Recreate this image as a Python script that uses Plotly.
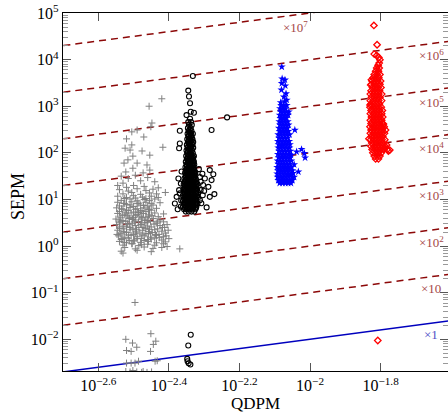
import math
import plotly.graph_objects as go

# ---------------- axis settings (log10 units) ----------------
x_range_log = [-2.7, -1.609]
y_range_log = [-2.68, 5.0]

x_tick_exps = [-2.6, -2.4, -2.2, -2.0, -1.8]
x_tick_labels = ["10<sup>−2.6</sup>", "10<sup>−2.4</sup>", "10<sup>−2.2</sup>",
                 "10<sup>−2</sup>", "10<sup>−1.8</sup>"]
y_tick_exps = [-2, -1, 0, 1, 2, 3, 4, 5]
y_tick_labels = ["10<sup>−2</sup>", "10<sup>−1</sup>", "10<sup>0</sup>", "10<sup>1</sup>",
                 "10<sup>2</sup>", "10<sup>3</sup>", "10<sup>4</sup>", "10<sup>5</sup>"]

# reference lines SEPM = multiplier * QDPM
multipliers = [1, 10, 1e2, 1e3, 1e4, 1e5, 1e6, 1e7]
multiplier_labels = ["×1", "×10", "×10<sup>2</sup>", "×10<sup>3</sup>", "×10<sup>4</sup>",
                     "×10<sup>5</sup>", "×10<sup>6</sup>", "×10<sup>7</sup>"]

# ---------------- data (log10 QDPM, log10 SEPM) ----------------
gray_points_log = [
    (-2.420, 3.16), (-2.456, 3.00), (-2.448, 2.64), (-2.451, 2.56), (-2.471, 2.34),
    (-2.505, 2.45), (-2.490, 2.49), (-2.520, 2.30),
    (-2.505, 2.17), (-2.510, 2.06), (-2.524, 2.10), (-2.476, 2.04), (-2.417, 2.12),
    (-2.502, 1.93), (-2.454, 1.95), (-2.527, 1.78), (-2.516, 1.85), (-2.490, 1.78),
    (-2.462, 1.74), (-2.522, 1.59), (-2.502, 1.67), (-2.454, 1.63), (-2.473, 1.57),
    (-2.535, 1.50), (-2.515, 1.45), (-2.495, 1.52), (-2.480, 1.40), (-2.460, 1.47),
    (-2.440, 1.38), (-2.530, 1.35), (-2.500, 1.30), (-2.470, 1.28), (-2.430, 1.25),
    (-2.520, 1.26), (-2.545, 1.30),
    (-2.540, 1.21), (-2.515, 1.18), (-2.490, 1.23), (-2.465, 1.19), (-2.445, 1.22),
    (-2.530, 1.12), (-2.505, 1.15), (-2.480, 1.11), (-2.455, 1.14), (-2.435, 1.12), (-2.410, 1.15),
    (-2.545, 1.07), (-2.520, 1.04), (-2.500, 1.08), (-2.475, 1.05), (-2.450, 1.07), (-2.430, 1.04),
    (-2.535, 0.98), (-2.510, 1.01), (-2.490, 0.97), (-2.470, 1.00), (-2.455, 0.98), (-2.440, 1.01),
    (-2.545, 0.94), (-2.525, 0.91), (-2.505, 0.95), (-2.485, 0.92), (-2.465, 0.94), (-2.450, 0.91),
    (-2.425, 0.93),
    (-2.540, 0.86), (-2.520, 0.89), (-2.500, 0.85), (-2.480, 0.88), (-2.460, 0.86), (-2.445, 0.88),
    (-2.548, 0.82), (-2.530, 0.79), (-2.510, 0.83), (-2.490, 0.80), (-2.470, 0.82), (-2.455, 0.79),
    (-2.435, 0.81),
    (-2.540, 0.74), (-2.520, 0.77), (-2.500, 0.73), (-2.480, 0.76), (-2.465, 0.74), (-2.450, 0.77),
    (-2.545, 0.70), (-2.525, 0.67), (-2.507, 0.71), (-2.490, 0.68), (-2.472, 0.70), (-2.455, 0.67),
    (-2.440, 0.71), (-2.415, 0.69),
    (-2.538, 0.62), (-2.518, 0.65), (-2.500, 0.61), (-2.482, 0.64), (-2.465, 0.62), (-2.448, 0.65),
    (-2.430, 0.63),
    (-2.550, 0.58), (-2.530, 0.55), (-2.512, 0.59), (-2.494, 0.56), (-2.476, 0.58), (-2.460, 0.55),
    (-2.444, 0.59), (-2.425, 0.56),
    (-2.540, 0.50), (-2.522, 0.53), (-2.504, 0.49), (-2.486, 0.52), (-2.468, 0.50), (-2.452, 0.53),
    (-2.436, 0.49), (-2.415, 0.52),
    (-2.548, 0.46), (-2.530, 0.43), (-2.512, 0.47), (-2.495, 0.44), (-2.477, 0.46), (-2.460, 0.43),
    (-2.442, 0.47), (-2.425, 0.44), (-2.405, 0.46),
    (-2.540, 0.38), (-2.520, 0.41), (-2.502, 0.37), (-2.485, 0.40), (-2.467, 0.38), (-2.450, 0.41),
    (-2.432, 0.37), (-2.412, 0.40),
    (-2.545, 0.34), (-2.527, 0.31), (-2.510, 0.35), (-2.492, 0.32), (-2.474, 0.34), (-2.457, 0.31),
    (-2.440, 0.35), (-2.420, 0.32), (-2.402, 0.34),
    (-2.538, 0.26), (-2.520, 0.29), (-2.500, 0.25), (-2.482, 0.28), (-2.465, 0.26), (-2.447, 0.29),
    (-2.428, 0.25), (-2.410, 0.28),
    (-2.543, 0.22), (-2.525, 0.19), (-2.507, 0.23), (-2.490, 0.20), (-2.470, 0.22), (-2.452, 0.19),
    (-2.435, 0.23), (-2.415, 0.20),
    (-2.535, 0.14), (-2.515, 0.17), (-2.497, 0.13), (-2.478, 0.16), (-2.460, 0.14), (-2.440, 0.17),
    (-2.420, 0.13), (-2.400, 0.16),
    (-2.540, 0.10), (-2.520, 0.07), (-2.500, 0.11), (-2.480, 0.08), (-2.458, 0.10), (-2.435, 0.07),
    (-2.410, 0.09),
    (-2.530, 0.02), (-2.505, 0.05), (-2.485, 0.01), (-2.460, 0.04), (-2.440, 0.02), (-2.415, 0.05),
    (-2.525, -0.03), (-2.495, -0.06), (-2.470, -0.02), (-2.445, -0.05), (-2.420, -0.03),
    (-2.535, -0.11), (-2.490, -0.09), (-2.450, -0.12),
    (-2.369, -0.06), (-2.530, -0.15), (-2.405, -0.01),
    # denser core
    (-2.532, 0.66), (-2.513, 0.62), (-2.495, 0.66), (-2.477, 0.61), (-2.458, 0.64),
    (-2.536, 0.53), (-2.517, 0.48), (-2.498, 0.52), (-2.480, 0.47), (-2.462, 0.51),
    (-2.540, 0.41), (-2.528, 0.37), (-2.510, 0.40), (-2.492, 0.36), (-2.473, 0.40), (-2.455, 0.36),
    (-2.533, 0.28), (-2.514, 0.24), (-2.495, 0.28), (-2.476, 0.24), (-2.458, 0.27), (-2.438, 0.25),
    (-2.530, 0.16), (-2.511, 0.12), (-2.490, 0.16), (-2.470, 0.12), (-2.450, 0.15),
    (-2.534, 0.80), (-2.515, 0.76), (-2.495, 0.79), (-2.476, 0.75), (-2.458, 0.78),
    (-2.528, 0.92), (-2.510, 0.88), (-2.490, 0.91), (-2.472, 0.87),
    (-2.525, 1.02), (-2.495, 1.03), (-2.465, 1.02),
    (-2.541, 0.56), (-2.522, 0.71), (-2.503, 0.57), (-2.486, 0.72), (-2.468, 0.55),
    (-2.547, 0.25), (-2.504, 0.05), (-2.526, 0.08), (-2.478, 0.03),
    (-2.427, 0.18), (-2.418, 0.40), (-2.432, 0.52), (-2.408, 0.22),
    # low outliers
    (-2.496, -1.21), (-2.522, -2.00), (-2.503, -2.08), (-2.491, -2.17), (-2.520, -2.24),
    (-2.507, -2.26), (-2.451, -1.88), (-2.437, -2.04), (-2.444, -2.11), (-2.452, -2.26),
    (-2.520, -2.51), (-2.507, -2.51), (-2.496, -2.51), (-2.486, -2.47), (-2.439, -2.47),
    (-2.433, -2.46),
    (-2.522, -2.69), (-2.510, -2.70), (-2.502, -2.67), (-2.491, -2.70), (-2.477, -2.71),
    (-2.473, -2.69), (-2.462, -2.71), (-2.449, -2.70),
]

black_core_rows_log = [
    (0.74, [-2.352, -2.344, -2.336, -2.328]),
    (0.79, [-2.357, -2.349, -2.341, -2.333, -2.325]),
    (0.82, [-2.355, -2.347, -2.339, -2.331, -2.323]),
    (0.85, [-2.360, -2.352, -2.345, -2.338, -2.330, -2.322]),
    (0.88, [-2.356, -2.348, -2.340, -2.332, -2.324]),
    (0.91, [-2.358, -2.350, -2.342, -2.334, -2.326, -2.319]),
    (0.94, [-2.355, -2.347, -2.339, -2.331, -2.322]),
    (0.97, [-2.360, -2.353, -2.346, -2.339, -2.331, -2.323]),
    (1.00, [-2.356, -2.348, -2.340, -2.332, -2.323]),
    (1.03, [-2.357, -2.349, -2.341, -2.333, -2.325, -2.318]),
    (1.06, [-2.354, -2.346, -2.338, -2.330, -2.322]),
    (1.09, [-2.360, -2.352, -2.344, -2.336, -2.328, -2.320]),
    (1.12, [-2.356, -2.348, -2.340, -2.332, -2.323]),
    (1.15, [-2.356, -2.348, -2.340, -2.332, -2.324, -2.317]),
    (1.18, [-2.354, -2.346, -2.338, -2.330, -2.322]),
    (1.21, [-2.359, -2.351, -2.343, -2.335, -2.327, -2.320]),
    (1.24, [-2.355, -2.347, -2.339, -2.331, -2.324]),
    (1.27, [-2.355, -2.347, -2.339, -2.331, -2.323]),
    (1.30, [-2.353, -2.345, -2.337, -2.329, -2.322]),
    (1.33, [-2.358, -2.350, -2.342, -2.334, -2.326, -2.319]),
    (1.36, [-2.355, -2.347, -2.339, -2.331, -2.324]),
    (1.39, [-2.354, -2.346, -2.338, -2.330, -2.322]),
    (1.42, [-2.352, -2.344, -2.336, -2.328]),
    (1.45, [-2.356, -2.348, -2.340, -2.332, -2.324]),
    (1.48, [-2.353, -2.345, -2.337, -2.329]),
    (1.51, [-2.352, -2.344, -2.336, -2.328]),
    (1.54, [-2.350, -2.342, -2.334, -2.327]),
    (1.57, [-2.354, -2.346, -2.338, -2.330, -2.325]),
    (1.60, [-2.350, -2.342, -2.334, -2.327]),
    (1.63, [-2.351, -2.343, -2.335, -2.328]),
    (1.66, [-2.348, -2.340, -2.332]),
    (1.69, [-2.353, -2.345, -2.337, -2.330]),
    (1.72, [-2.349, -2.341, -2.333]),
    (1.75, [-2.350, -2.342, -2.334, -2.328]),
    (1.78, [-2.347, -2.339, -2.331]),
    (1.81, [-2.352, -2.344, -2.336, -2.329]),
    (1.84, [-2.346, -2.338, -2.331]),
    (1.87, [-2.349, -2.341, -2.333]),
    (1.90, [-2.346, -2.338, -2.331]),
    (1.93, [-2.351, -2.343, -2.335, -2.329]),
    (1.96, [-2.345, -2.337]),
    (1.99, [-2.348, -2.340, -2.332]),
    (2.02, [-2.346, -2.338]),
    (2.05, [-2.350, -2.342, -2.334]),
    (2.08, [-2.344, -2.336]),
    (2.11, [-2.347, -2.339, -2.331]),
    (2.14, [-2.345, -2.337]),
    (2.17, [-2.349, -2.341, -2.333]),
    (2.20, [-2.343, -2.335]),
    (2.23, [-2.346, -2.338, -2.331]),
    (2.26, [-2.344, -2.336]),
    (2.29, [-2.348, -2.340, -2.333]),
    (2.32, [-2.342, -2.335]),
    (2.35, [-2.345, -2.337]),
    (2.38, [-2.343, -2.336]),
    (2.41, [-2.347, -2.339, -2.332]),
    (2.44, [-2.341]),
    (2.47, [-2.344, -2.336]),
    (2.50, [-2.341]),
    (2.53, [-2.346, -2.338]),
    (2.60, [-2.343, -2.335]),
    (2.66, [-2.345, -2.337]),
    (2.73, [-2.340]),
]
black_sparse_log = [
    (-2.345, 3.335), (-2.343, 3.21), (-2.340, 3.065), (-2.338, 2.88), (-2.329, 2.86),
    (-2.350, 2.81), (-2.332, 3.65),
    (-2.235, 2.76), (-2.279, 2.49), (-2.369, 2.475), (-2.369, 2.20), (-2.371, 2.10),
    (-2.284, 1.63), (-2.274, 1.54), (-2.279, 1.415), (-2.298, 1.45), (-2.288, 1.27),
    (-2.303, 1.31), (-2.271, 1.115), (-2.284, 1.056), (-2.304, 1.09), (-2.293, 0.83),
    (-2.312, 0.985), (-2.310, 1.20), (-2.305, 1.55), (-2.310, 1.38), (-2.315, 1.65),
    (-2.308, 0.92), (-2.312, 1.48), (-2.300, 1.18),
    (-2.373, 1.45), (-2.378, 1.056), (-2.383, 0.914), (-2.375, 0.79), (-2.371, 1.20),
    (-2.366, 1.34), (-2.369, 1.13), (-2.365, 0.98), (-2.366, 0.85), (-2.364, 1.60),
    (-2.338, -1.903), (-2.345, -2.133), (-2.348, -2.42), (-2.347, -2.47), (-2.344, -2.514),
    (-2.339, -2.54),
]

blue_core_rows_log = [
    (3.02, [-2.082, -2.074, -2.066]),
    (2.95, [-2.085, -2.077, -2.069]),
    (2.88, [-2.083, -2.075, -2.067, -2.060]),
    (2.81, [-2.086, -2.078, -2.070, -2.062]),
    (2.74, [-2.084, -2.076, -2.068]),
    (2.67, [-2.087, -2.079, -2.071, -2.063]),
    (2.60, [-2.085, -2.077, -2.069, -2.061]),
    (2.53, [-2.088, -2.080, -2.072, -2.064]),
    (2.46, [-2.086, -2.078, -2.070, -2.062]),
    (2.39, [-2.090, -2.082, -2.074, -2.066, -2.058]),
    (2.32, [-2.088, -2.080, -2.072, -2.064]),
    (2.25, [-2.091, -2.083, -2.075, -2.067, -2.059]),
    (2.18, [-2.089, -2.081, -2.073, -2.065, -2.057]),
    (2.11, [-2.090, -2.082, -2.074, -2.066, -2.058]),
    (2.04, [-2.088, -2.080, -2.072, -2.064, -2.056]),
    (1.97, [-2.091, -2.083, -2.075, -2.067, -2.059]),
    (1.90, [-2.089, -2.081, -2.073, -2.065, -2.057]),
    (1.83, [-2.092, -2.084, -2.076, -2.068, -2.060, -2.053]),
    (1.76, [-2.090, -2.082, -2.074, -2.066, -2.058]),
    (1.69, [-2.093, -2.085, -2.077, -2.069, -2.061, -2.052]),
    (1.62, [-2.091, -2.083, -2.075, -2.067, -2.059, -2.050]),
    (1.55, [-2.093, -2.085, -2.077, -2.069, -2.061, -2.053]),
    (1.48, [-2.092, -2.084, -2.076, -2.068, -2.060, -2.051, -2.045]),
    (1.41, [-2.090, -2.082, -2.074, -2.066, -2.058, -2.050]),
    (1.35, [-2.086, -2.078, -2.070, -2.062, -2.054]),
]
blue_sparse_log = [
    (-2.080, 3.845), (-2.079, 3.59), (-2.071, 3.565), (-2.080, 3.49), (-2.070, 3.44),
    (-2.081, 3.35), (-2.068, 3.27), (-2.074, 3.20), (-2.066, 3.135), (-2.072, 3.10),
    (-2.083, 3.08),
    (-2.043, 2.49), (-2.038, 2.024), (-2.024, 2.075), (-2.016, 1.99), (-2.014, 1.895),
    (-2.033, 1.594), (-2.048, 1.56), (-2.054, 1.95), (-2.045, 1.75),
]

red_core_rows_log = [
    (3.82, [-1.811, -1.804]),
    (3.75, [-1.814, -1.806]),
    (3.68, [-1.818, -1.810, -1.802]),
    (3.61, [-1.821, -1.813, -1.805]),
    (3.54, [-1.824, -1.816, -1.808, -1.800]),
    (3.47, [-1.826, -1.818, -1.810, -1.802]),
    (3.40, [-1.823, -1.815, -1.807, -1.799]),
    (3.33, [-1.827, -1.819, -1.811, -1.803]),
    (3.26, [-1.829, -1.821, -1.813, -1.805, -1.797]),
    (3.19, [-1.826, -1.818, -1.810, -1.802]),
    (3.12, [-1.829, -1.821, -1.813, -1.805, -1.797]),
    (3.05, [-1.827, -1.819, -1.811, -1.803]),
    (2.98, [-1.830, -1.822, -1.814, -1.806, -1.798]),
    (2.91, [-1.827, -1.819, -1.811, -1.803, -1.795]),
    (2.84, [-1.829, -1.821, -1.813, -1.805, -1.797]),
    (2.77, [-1.826, -1.818, -1.810, -1.802, -1.794]),
    (2.70, [-1.829, -1.821, -1.813, -1.805, -1.797]),
    (2.63, [-1.827, -1.819, -1.811, -1.803, -1.795]),
    (2.56, [-1.830, -1.822, -1.814, -1.806, -1.798, -1.790]),
    (2.49, [-1.827, -1.819, -1.811, -1.803, -1.795]),
    (2.42, [-1.829, -1.821, -1.813, -1.805, -1.797, -1.789]),
    (2.35, [-1.826, -1.818, -1.810, -1.802, -1.794]),
    (2.28, [-1.828, -1.820, -1.812, -1.804, -1.796, -1.788]),
    (2.21, [-1.825, -1.817, -1.809, -1.801, -1.793]),
    (2.14, [-1.827, -1.819, -1.811, -1.803, -1.795, -1.787]),
    (2.07, [-1.824, -1.816, -1.808, -1.800, -1.792]),
    (2.00, [-1.822, -1.814, -1.806, -1.798]),
    (1.93, [-1.818, -1.810, -1.802]),
    (1.87, [-1.814, -1.806]),
]
red_sparse_log = [
    (-1.819, 4.733), (-1.810, 4.318), (-1.818, 4.118), (-1.811, 4.088), (-1.805, 4.045),
    (-1.802, 3.996), (-1.804, 3.925), (-1.807, 3.88),
    (-1.786, 2.49), (-1.783, 2.168), (-1.774, 2.06), (-1.788, 2.11), (-1.826, 3.566),
    (-1.828, 3.458), (-1.830, 3.028), (-1.781, 2.075), (-1.778, 2.04), (-1.792, 2.62),
    (-1.833, 2.30),
    (-1.808, -2.026),
]


def to_linear(points):
    return [10 ** p[0] for p in points], [10 ** p[1] for p in points]


def rows_to_points(rows):
    return [(lx, ly) for ly, lxs in rows for lx in lxs]


fig = go.Figure()

# reference lines
x_line = [10 ** (x_range_log[0] - 0.1), 10 ** (x_range_log[1] + 0.1)]
for m in multipliers:
    is_unit = (m == 1)
    fig.add_trace(go.Scatter(
        x=x_line, y=[m * v for v in x_line], mode="lines",
        line=dict(color="rgb(0,0,190)" if is_unit else "rgb(140,8,8)",
                  width=1.5, dash="solid" if is_unit else "7px,5px"),
        hoverinfo="skip", showlegend=False))

gx, gy = to_linear(gray_points_log)
fig.add_trace(go.Scatter(x=gx, y=gy, mode="markers", showlegend=False,
                         marker=dict(symbol="cross-thin", size=5, color="rgb(128,128,128)",
                                     line=dict(color="rgb(128,128,128)", width=1))))

bx, by = to_linear(rows_to_points(black_core_rows_log) + black_sparse_log)
fig.add_trace(go.Scatter(x=bx, y=by, mode="markers", showlegend=False,
                         marker=dict(symbol="circle-open", size=5, color="black",
                                     line=dict(color="black", width=1.1))))

ux, uy = to_linear(rows_to_points(blue_core_rows_log) + blue_sparse_log)
fig.add_trace(go.Scatter(x=ux, y=uy, mode="markers", showlegend=False,
                         marker=dict(symbol="star", size=6, color="rgb(0,0,255)",
                                     line=dict(width=0))))

rx, ry = to_linear(rows_to_points(red_core_rows_log) + red_sparse_log)
fig.add_trace(go.Scatter(x=rx, y=ry, mode="markers", showlegend=False,
                         marker=dict(symbol="diamond-open", size=5, color="rgb(255,0,0)",
                                     line=dict(color="rgb(255,0,0)", width=1.3))))

# line labels (annotation coordinates on log axes are log10 values)
label_x_log = -1.656
for m, lab in zip(multipliers, multiplier_labels):
    k = math.log10(m)
    lx = -2.042 if k >= 7 else label_x_log
    ly = k + lx - 0.25
    fig.add_annotation(x=lx, y=ly, xref="x", yref="y", text=lab, showarrow=False,
                       xanchor="center", yanchor="middle",
                       font=dict(family="Liberation Serif", size=13,
                                 color="rgb(80,80,200)" if m == 1 else "rgb(165,70,70)"))

font_main = dict(family="Liberation Serif", size=16, color="black")

minor_y = [mm * 10 ** e for e in range(-3, 6) for mm in range(2, 10)]

fig.update_xaxes(type="log", range=x_range_log,
                 tickmode="array", tickvals=[10 ** e for e in x_tick_exps], ticktext=x_tick_labels,
                 ticks="inside", ticklen=8, tickwidth=1, tickcolor="#555",
                 showline=True, linecolor="black", linewidth=1.2, mirror="ticks",
                 showgrid=False, zeroline=False, tickfont=font_main)
fig.update_yaxes(type="log", range=y_range_log,
                 tickmode="array", tickvals=[10 ** e for e in y_tick_exps], ticktext=y_tick_labels,
                 ticks="inside", ticklen=8, tickwidth=1, tickcolor="#555",
                 minor=dict(tickmode="array", tickvals=minor_y, ticks="inside", ticklen=5,
                            tickwidth=1, tickcolor="#999", showgrid=False),
                 showline=True, linecolor="black", linewidth=1.2, mirror="ticks",
                 showgrid=False, zeroline=False, tickfont=font_main)

fig.add_annotation(x=0.501, y=-0.09, xref="paper", yref="paper", text="QDPM",
                   showarrow=False, xanchor="center", yanchor="middle",
                   font=dict(family="Liberation Serif", size=17, color="black"))
fig.add_annotation(x=-0.117, y=0.489, xref="paper", yref="paper", text="SEPM",
                   showarrow=False, xanchor="center", yanchor="middle", textangle=-90,
                   font=dict(family="Liberation Serif", size=18, color="black"))

fig.update_layout(width=448, height=414,
                  margin=dict(l=63, r=0, t=13, b=43, pad=0),
                  paper_bgcolor="white", plot_bgcolor="white", showlegend=False)

fig.write_html("out.html", config={"displayModeBar": False},
               post_script="document.body.style.margin='0';document.body.style.overflow='hidden';")
